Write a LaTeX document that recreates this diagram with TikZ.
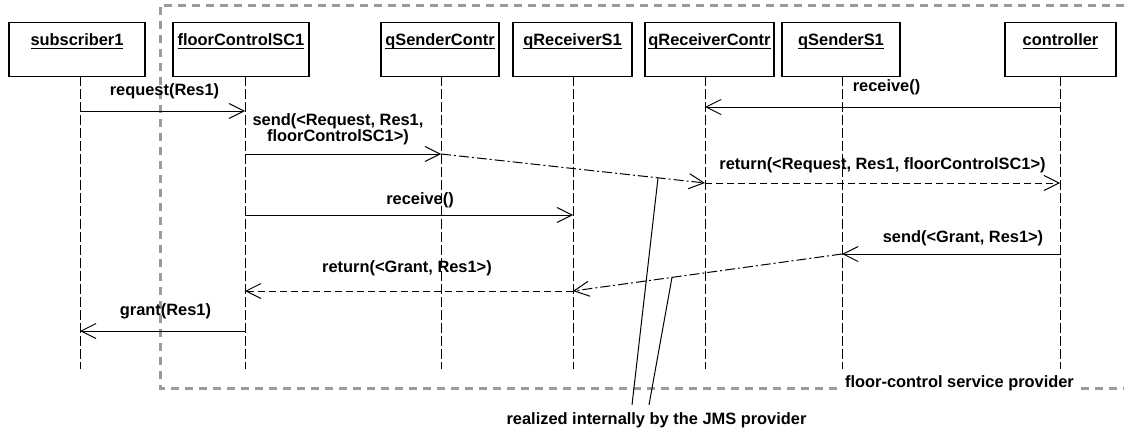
\documentclass[tikz,border=0pt]{standalone}
\usepackage{fontspec}
\setmainfont{Liberation Sans}
\usepackage{xcolor}
\usepackage{tikz}
\usetikzlibrary{arrows.meta}
\definecolor{framegray}{RGB}{155,155,155}
\newcommand{\uname}[1]{\setbox0=\hbox{#1}\rlap{\vrule width\wd0 height -2pt depth 3.8pt}\box0}
\tikzset{
    tnode/.style = {align=center, inner sep=0pt, text centered, font=\fontsize{16.4}{14.5}\selectfont\bfseries},
    obj/.style = {tnode, rectangle, draw=black, line width=1.2pt, anchor=north, inner ysep=11pt, text height=12pt, text depth=20pt},
    lbl/.style = {tnode, midway, anchor=south, text depth=0pt, yshift=#1}
}
\tikzset{
    lifeline/.style = {line width=1pt, dash pattern=on 10pt off 3pt},
    msg/.style = {-{Straight Barb[length=15pt, width=15pt]}, line width=1pt},
    reply/.style = {msg, dash pattern=on 7pt off 4pt},
    jmsmsg/.style = {msg, dash pattern=on 10pt off 3pt on 2pt off 3pt},
    frame/.style = {draw=framegray, line width=3pt, dash pattern=on 8pt off 6pt},
    note/.style = {line width=1pt}
}

\begin{document}
\begin{tikzpicture}[x=1pt, y=-1pt]
    \useasboundingbox (0,0) rectangle (1124,431);

    % service provider frame
    \draw[frame] (1124,5) -- (160,5) -- (160,388) -- (1124,388);
    \node[tnode, fill=white, inner xsep=7pt, inner ysep=2pt] (fcsp) at (959.5,383) {floor-control service provider};

    % objects
    \node[obj, minimum width=136pt] (b-sub) at (77,22) {\uname{subscriber1}};
    \node[obj, minimum width=136pt] (b-fc) at (241,22) {\uname{floorControlSC1}};
    \node[obj, minimum width=118pt] (b-qsc) at (440,22) {\uname{qSenderContr}};
    \node[obj, minimum width=119pt] (b-qrs) at (572.5,22) {\uname{qReceiverS1}};
    \node[obj, minimum width=129pt] (b-qrc) at (709.5,22) {\uname{qReceiverContr}};
    \node[obj, minimum width=118pt] (b-qss) at (841,22) {\uname{qSenderS1}};
    \node[obj, minimum width=111pt] (b-ctrl) at (1060.5,22) {\uname{controller}};

    % lifelines
    \foreach \n/\x in {sub/80, fc/245, qsc/441, qrs/573, qrc/705, qss/842, ctrl/1060} {
        \coordinate (\n) at (\x,76);
        \coordinate (\n-end) at (\x,369);
        \draw[lifeline] (\n) -- (\n-end);
    }

    % messages
    \draw[msg] (sub |- 0,111) -- (fc |- 0,111) node[lbl=15pt, xshift=2pt] {request(Res1)};
    \draw[msg] (fc |- 0,154) -- (qsc |- 0,154) node[lbl=12pt, xshift=-5pt] {send(<Request, Res1,\\floorControlSC1>)};
    \draw[jmsmsg] (qsc |- 0,154) -- coordinate[pos=0.822] (j1) (qrc |- 0,183);
    \draw[msg] (ctrl |- 0,107) -- (qrc |- 0,107) node[lbl=15pt, xshift=4pt] {receive()};
    \draw[reply] (qrc |- 0,183) -- (ctrl |- 0,183) node[lbl=13pt] {return(<Request, Res1, floorControlSC1>)};
    \draw[msg] (fc |- 0,215) -- (qrs |- 0,215) node[lbl=10pt, xshift=11pt] {receive()};
    \draw[msg] (ctrl |- 0,254) -- (qss |- 0,254) node[lbl=11pt, xshift=12pt] {send(<Grant, Res1>)};
    \draw[jmsmsg] (qss |- 0,254) -- coordinate[pos=0.632] (j2) (qrs |- 0,291);
    \draw[reply] (qrs |- 0,291) -- (fc |- 0,291) node[lbl=18pt, xshift=-2pt] {return(<Grant, Res1>)};
    \draw[msg] (fc |- 0,331) -- (sub |- 0,331) node[lbl=15pt, xshift=3pt] {grant(Res1)};

    % note on the JMS provider
    \node[tnode, anchor=base] (jmsp) at (656.5,424) {realized internally by the JMS provider};
    \draw[note] ([xshift=-24.5pt, yshift=7pt]jmsp.north) -- (j1);
    \draw[note] ([xshift=-7.5pt, yshift=7pt]jmsp.north) -- (j2);
\end{tikzpicture}
\end{document}
